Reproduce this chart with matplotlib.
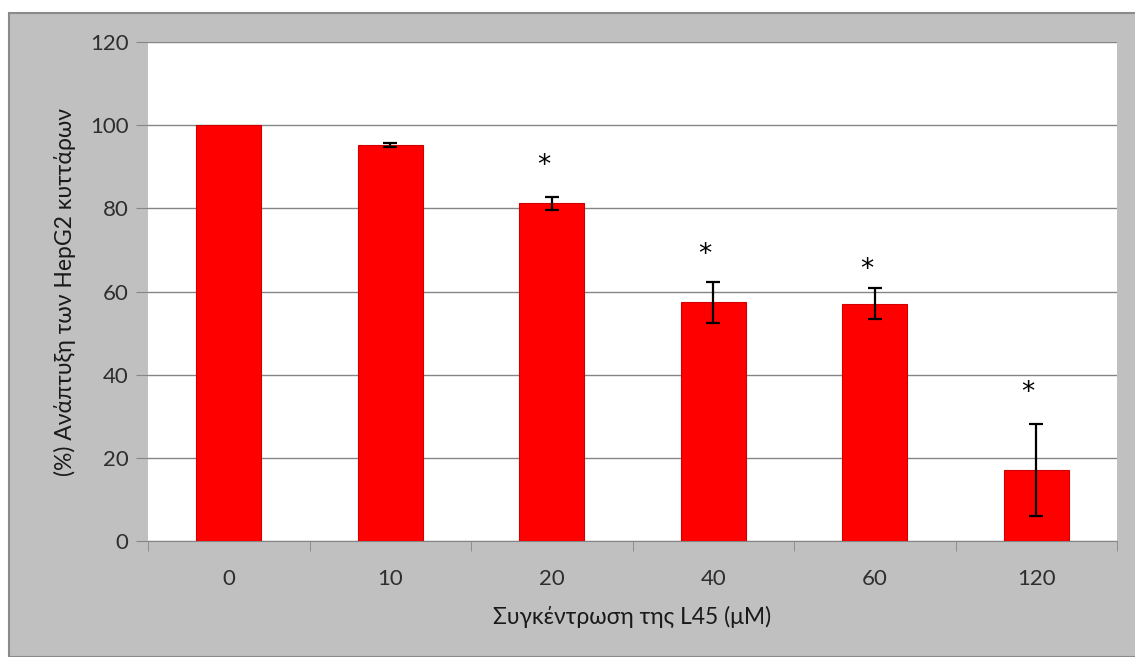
import matplotlib.pyplot as plt
from matplotlib.patches import Rectangle
import numpy as np

plt.rcParams['font.family'] = ['Lato', 'DejaVu Sans']

conc = ['0', '10', '20', '40', '60', '120']
growth = [100, 95.3, 81.2, 57.4, 57.1, 17.1]
err = [0, 0.5, 1.5, 4.9, 3.7, 11.0]
star_y = [None, None, 90.2, 68.7, 65.1, 35.7]

fig = plt.figure(figsize=(11.35, 6.57), dpi=100)
fig.patches.append(Rectangle((9/1135, 0), 1, 1 - 13/657, transform=fig.transFigure,
                             facecolor='#c0c0c0', edgecolor='#8a8a8a', lw=1.5, zorder=-10))

ax = fig.add_axes([148/1135, 1 - 541/657, (1117 - 148)/1135, (541 - 42)/657])
ax.set_facecolor('white')

x = np.arange(len(conc))
ax.bar(x, growth, width=0.4, color='#ff0000', edgecolor='#d00000', lw=0.8, zorder=3)
ax.errorbar(x[1:], growth[1:], yerr=err[1:], fmt='none', ecolor='black',
            elinewidth=1.6, capsize=5, capthick=1.6, zorder=4)
for xi, sy in zip(x, star_y):
    if sy is not None:
        ax.text(xi - 0.05, sy, '*', ha='center', va='center', fontsize=19,
                family='DejaVu Sans', color='black', zorder=5)

ax.set_xlim(-0.5, len(conc) - 0.5)
ax.set_ylim(0, 120)
ax.set_yticks(range(0, 121, 20))
ax.grid(axis='y', color='#858585', lw=1, zorder=1)
ax.set_axisbelow(True)

ax.set_xticks(x)
ax.set_xticklabels(conc)
ax.set_xticks(np.arange(-0.5, len(conc), 1), minor=True)
ax.tick_params(axis='x', which='major', length=0, pad=20, labelsize=16, labelcolor='#2e2e2e')
ax.tick_params(axis='x', which='minor', length=7, color='#858585', direction='out')
ax.tick_params(axis='y', length=9, color='#858585', labelsize=16, labelcolor='#2e2e2e', pad=5)

for s in ['top', 'right', 'left']:
    ax.spines[s].set_visible(False)
ax.spines['bottom'].set_color('#858585')

ax.set_xlabel('Συγκέντρωση της L45 (μM)', fontsize=16.5, color='#1a1a1a', labelpad=12)
ax.set_ylabel('(%) Ανάπτυξη των HepG2 κυττάρων', fontsize=16.5, color='#1a1a1a', labelpad=10)

fig.savefig('out.png', dpi=100)
